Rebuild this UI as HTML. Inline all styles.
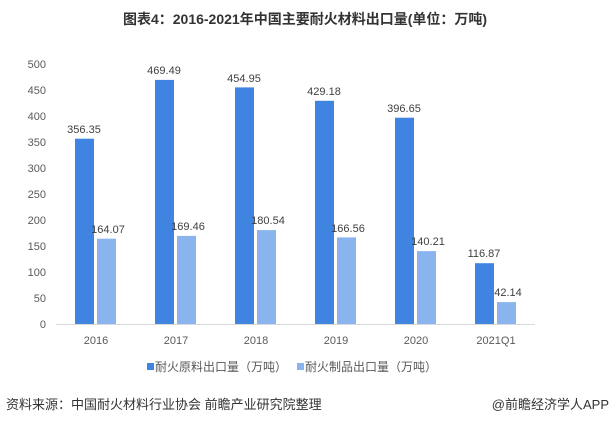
<!DOCTYPE html>
<html><head><meta charset="utf-8"><style>
body{margin:0;background:#fff;width:611px;height:423px;overflow:hidden;font-family:"Liberation Sans","Noto Sans CJK SC",sans-serif;}
</style></head><body>
<svg width="611" height="423" xmlns="http://www.w3.org/2000/svg" font-family="Liberation Sans, Noto Sans CJK SC, sans-serif">
<text x="305" y="24" text-anchor="middle" font-size="14" font-weight="bold" fill="#333">图表4：2016-2021年中国主要耐火材料出口量(单位：万吨)</text>
<g font-size="11" fill="#595959" text-anchor="end">
<text x="46" y="328">0</text><text x="46" y="302">50</text><text x="46" y="276">100</text><text x="46" y="250">150</text><text x="46" y="224">200</text><text x="46" y="198">250</text><text x="46" y="172">300</text><text x="46" y="146">350</text><text x="46" y="120">400</text><text x="46" y="94">450</text><text x="46" y="68">500</text>
</g>
<line x1="56" y1="324.5" x2="535" y2="324.5" stroke="#d9d9d9"/>
<g fill="#3e84e0">
<rect x="75" y="138.7" width="19" height="185.3"/>
<rect x="155" y="79.9" width="19" height="244.1"/>
<rect x="235" y="87.4" width="19" height="236.6"/>
<rect x="315" y="100.8" width="19" height="223.2"/>
<rect x="395" y="117.7" width="19" height="206.3"/>
<rect x="475" y="263.2" width="19" height="60.8"/>
</g>
<g fill="#8ab4ee">
<rect x="97" y="238.7" width="19" height="85.3"/>
<rect x="177" y="235.9" width="19" height="88.1"/>
<rect x="257" y="230.1" width="19" height="93.9"/>
<rect x="337" y="237.4" width="19" height="86.6"/>
<rect x="417" y="251.1" width="19" height="72.9"/>
<rect x="497" y="302.1" width="19" height="21.9"/>
</g>
<g font-size="11" fill="#404040" text-anchor="middle">
<text x="84" y="133">356.35</text><text x="108" y="233">164.07</text>
<text x="164" y="74">469.49</text><text x="188" y="230">169.46</text>
<text x="244" y="82">454.95</text><text x="268" y="224">180.54</text>
<text x="324" y="95">429.18</text><text x="348" y="232">166.56</text>
<text x="404" y="112">396.65</text><text x="428" y="245">140.21</text>
<text x="484" y="257">116.87</text><text x="508" y="296">42.14</text>
</g>
<g font-size="11" fill="#595959" text-anchor="middle">
<text x="96" y="344">2016</text><text x="176" y="344">2017</text><text x="256" y="344">2018</text><text x="336" y="344">2019</text><text x="416" y="344">2020</text><text x="496" y="344">2021Q1</text>
</g>
<rect x="147" y="363" width="7" height="7" fill="#3e84e0"/>
<text x="155" y="371" font-size="12" fill="#595959">耐火原料出口量（万吨）</text>
<rect x="297" y="363" width="7" height="7" fill="#8ab4ee"/>
<text x="305" y="371" font-size="12" fill="#595959">耐火制品出口量（万吨）</text>
<text x="6" y="409" font-size="13" fill="#333">资料来源：中国耐火材料行业协会 前瞻产业研究院整理</text>
<text x="609" y="409" font-size="13" fill="#333" text-anchor="end">@前瞻经济学人APP</text>
</svg>
</body></html>
